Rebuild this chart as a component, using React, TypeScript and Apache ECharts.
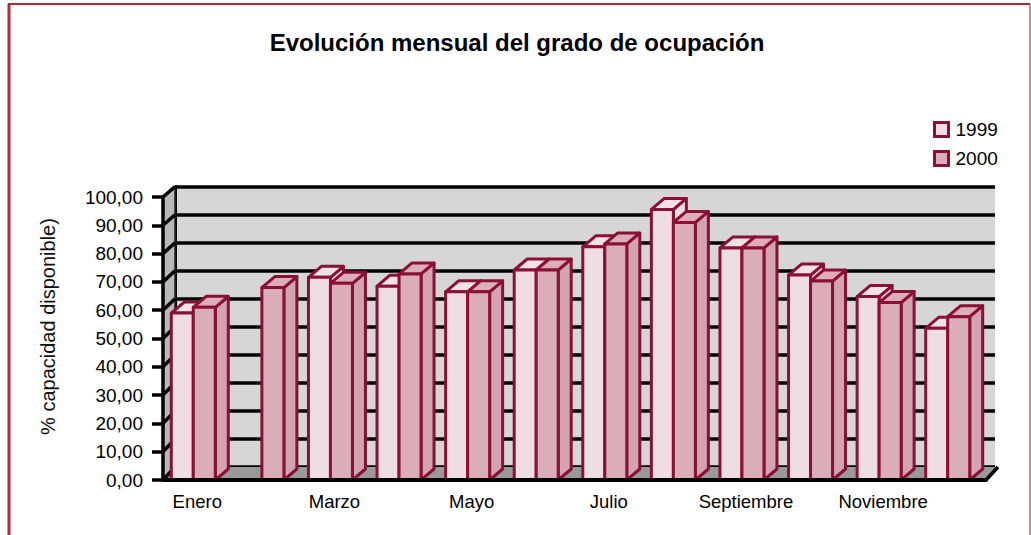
import React, { useEffect, useRef } from "react";
import * as echarts from "echarts";

const categories = ["Enero", "Febrero", "Marzo", "Abril", "Mayo", "Junio", "Julio", "Agosto", "Septiembre", "Octubre", "Noviembre", "Diciembre"];
const values1999 = [59, null, 71.6, 68.5, 66.5, 74.2, 82.4, 95.6, 82, 72.4, 64.8, 53.6];
const values2000 = [61, 68, 69.5, 72.8, 66.5, 74.2, 83.4, 91, 82, 70.3, 62.7, 57.7];
const yTicks = [0, 10, 20, 30, 40, 50, 60, 70, 80, 90, 100];

const MAROON = "#8a1038";
const LEFT = 163, RIGHT = 986, TOP = 197, BOTTOM = 480;
const BACK_LEFT = 175, BACK_RIGHT = 995, BACK_TOP = 186.7, BACK_BOTTOM = 467;
const BAR_W = 22, GROUP_SHIFT = -4, DEPTH_X = 13, DEPTH_Y = 11;

const barRender = (seriesOffset: number, front: string, top: string, side: string) => (_p: any, api: any) => {
  const v = api.value(1);
  if (v === null || v === undefined || isNaN(v)) return { type: "group", children: [] };
  const p = api.coord([api.value(0), v]);
  const b = api.coord([api.value(0), 0]);
  const x0 = p[0] + GROUP_SHIFT + seriesOffset;
  const x1 = x0 + BAR_W;
  const yT = p[1], yB = b[1];
  const style = { stroke: MAROON, lineWidth: 3, lineJoin: "round" };
  return {
    type: "group",
    children: [
      { type: "polygon", shape: { points: [[x1, yT], [x1 + DEPTH_X, yT - DEPTH_Y], [x1 + DEPTH_X, yB - DEPTH_Y], [x1, yB]] }, style: { ...style, fill: side } },
      { type: "polygon", shape: { points: [[x0, yT], [x0 + DEPTH_X, yT - DEPTH_Y], [x1 + DEPTH_X, yT - DEPTH_Y], [x1, yT]] }, style: { ...style, fill: top } },
      { type: "rect", shape: { x: x0, y: yT, width: BAR_W, height: yB - yT }, style: { ...style, fill: front } },
    ],
  };
};

const wallRender = (_p: any, api: any) => {
  const v = api.value(0);
  const p = api.coord([0, v]);
  const frac = v / 100;
  const by = BACK_BOTTOM + (BACK_TOP - BACK_BOTTOM) * frac;
  const children: any[] = [
    { type: "line", z2: 3, shape: { x1: LEFT, y1: p[1], x2: BACK_LEFT, y2: by }, style: { stroke: "#000", lineWidth: 3.5 } },
  ];
  if (v === 0) {
    children.unshift(
      { type: "polygon", z2: 1, shape: { points: [[LEFT, BOTTOM], [BACK_LEFT, BACK_BOTTOM], [BACK_LEFT, BACK_TOP], [LEFT, TOP]] }, style: { fill: "#b9b9b9" } },
      { type: "polygon", z2: 1, shape: { points: [[LEFT, BOTTOM], [BACK_LEFT, BACK_BOTTOM], [BACK_RIGHT + 2, BACK_BOTTOM], [RIGHT, BOTTOM]] }, style: { fill: "#999999" } },
      { type: "line", z2: 3, shape: { x1: BACK_LEFT, y1: BACK_BOTTOM, x2: BACK_LEFT, y2: BACK_TOP }, style: { stroke: "#222", lineWidth: 1.5 } },
      { type: "line", z2: 3, shape: { x1: RIGHT, y1: BOTTOM, x2: BACK_RIGHT + 3, y2: BACK_BOTTOM }, style: { stroke: "#000", lineWidth: 3.5 } },
    );
  }
  return { type: "group", children };
};

const textFont = "'Liberation Sans', Arial, sans-serif";

export default function App() {
  const ref = useRef<HTMLDivElement>(null);
  useEffect(() => {
    const chart = echarts.init(ref.current!, undefined, { renderer: "svg" });
    chart.setOption({
      animation: false,
      backgroundColor: "#ffffff",
      textStyle: { fontFamily: textFont },
      title: {
        text: "Evolución mensual del grado de ocupación",
        left: 512, top: 25, textAlign: "center",
        textStyle: { fontSize: 24, fontWeight: "bold", color: "#000", fontFamily: textFont },
      },
      legend: {
        data: [
          { name: "1999", itemStyle: { color: "#eedde3", borderColor: MAROON, borderWidth: 3 } },
          { name: "2000", itemStyle: { color: "#d9adba", borderColor: MAROON, borderWidth: 3 } },
        ],
        orient: "vertical", left: 933, top: 120, padding: 0, itemWidth: 14, itemHeight: 14, itemGap: 10, icon: "rect",
        selectedMode: false,
        textStyle: { fontSize: 19, color: "#000", fontFamily: textFont, padding: [0, 0, 0, 2] },
      },
      grid: [
        { left: LEFT, right: 1031 - RIGHT, top: TOP, bottom: 535 - BOTTOM, containLabel: false },
        { left: BACK_LEFT, right: 1031 - BACK_RIGHT, top: BACK_TOP, bottom: 535 - BACK_BOTTOM, show: true, backgroundColor: "#d6d6d6", borderWidth: 0 },
      ],
      xAxis: [
        {
          type: "category", gridIndex: 0, data: categories,
          axisLine: { lineStyle: { color: "#000", width: 4 } },
          axisTick: { show: false },
          axisLabel: { interval: 1, color: "#000", fontSize: 18.5, margin: 12, fontFamily: textFont },
          z: 5,
        },
        { type: "value", gridIndex: 1, min: 0, max: 1, axisLine: { show: false }, axisTick: { show: false }, axisLabel: { show: false }, splitLine: { show: false } },
      ],
      yAxis: [
        {
          type: "value", gridIndex: 0, min: 0, max: 100, interval: 10,
          axisLine: { show: true, lineStyle: { color: "#000", width: 3.5 } },
          axisTick: { show: true, length: 11, lineStyle: { color: "#000", width: 3.5 } },
          axisLabel: { color: "#000", fontSize: 19, margin: 20, fontFamily: textFont, formatter: (v: number) => v.toFixed(2).replace(".", ",") },
          splitLine: { show: false },
          name: "% capacidad disponible)",
          nameLocation: "middle", nameGap: 105, nameRotate: 90,
          nameTextStyle: { fontSize: 20, color: "#111", fontFamily: textFont, padding: [0, 0, 0, 24] },
          z: 5,
        },
        {
          type: "value", gridIndex: 1, min: 0, max: 100, interval: 10, position: "right",
          axisLine: { show: true, lineStyle: { color: "#000", width: 3 } },
          axisTick: { show: true, length: 2, lineStyle: { color: "#000", width: 3.5 } },
          axisLabel: { show: false },
          splitLine: { show: true, lineStyle: { color: "#000", width: 3.5 } },
          z: 1,
        },
      ],
      series: [
        { type: "custom", name: "walls", xAxisIndex: 0, yAxisIndex: 0, z: 1, clip: false, silent: true, data: yTicks.map((t) => [t]), encode: { y: 0 }, renderItem: wallRender },
        { type: "custom", name: "1999", xAxisIndex: 0, yAxisIndex: 0, z: 3, clip: false, itemStyle: { color: "#eedde3", borderColor: MAROON }, data: values1999.map((v, i) => [i, v]), encode: { x: 0, y: 1 }, renderItem: barRender(-BAR_W, "#eedde3", "#f2e2e8", "#eedde3") },
        { type: "custom", name: "2000", xAxisIndex: 0, yAxisIndex: 0, z: 4, clip: false, itemStyle: { color: "#d9adba", borderColor: MAROON }, data: values2000.map((v, i) => [i, v]), encode: { x: 0, y: 1 }, renderItem: barRender(0, "#d9adba", "#dcaebb", "#d2a3b1") },
      ],
      graphic: [
        { type: "line", shape: { x1: 9, y1: 4, x2: 9, y2: 535 }, style: { stroke: "#b02c42", lineWidth: 3 } },
        { type: "line", shape: { x1: 8, y1: 4, x2: 1030, y2: 4 }, style: { stroke: "#a8283c", lineWidth: 2 } },
        { type: "line", shape: { x1: 1030, y1: 4, x2: 1030, y2: 535 }, style: { stroke: "#c0606f", lineWidth: 1.5 } },
      ],
    });
    return () => chart.dispose();
  }, []);
  return <div ref={ref} style={{ position: "fixed", left: 0, top: 0, width: 1031, height: 535 }} />;
}
